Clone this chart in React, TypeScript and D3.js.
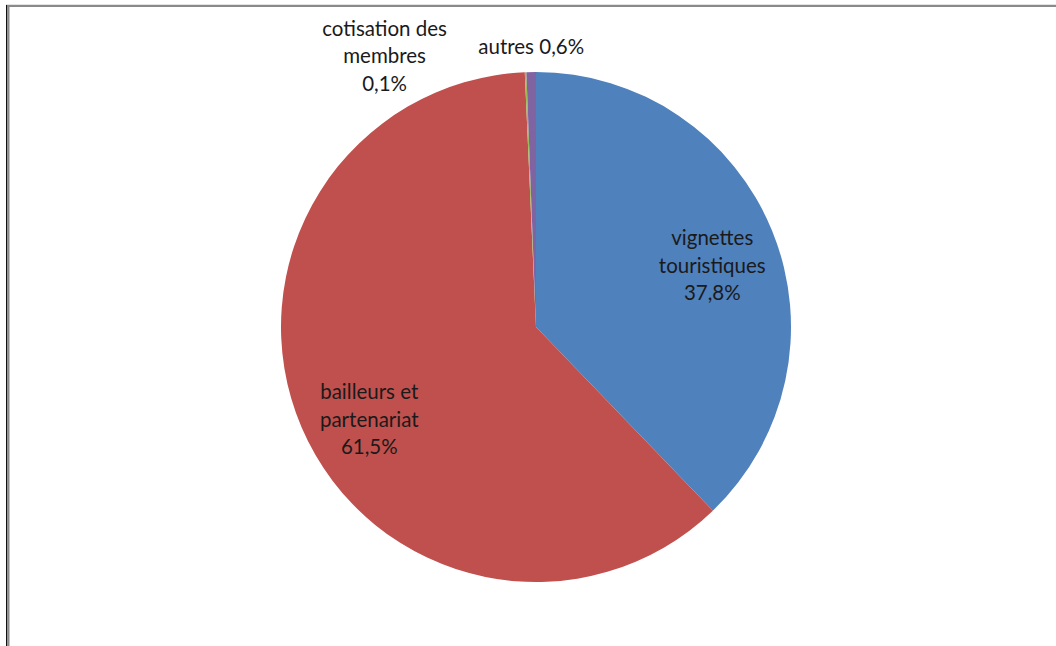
import React from "react";
import * as d3 from "d3";

const categories = ["vignettes touristiques", "bailleurs et partenariat", "cotisation des membres", "autres"];
const values = [37.8, 61.5, 0.1, 0.6];
const labelLines = [
  ["vignettes", "touristiques", "37,8%"],
  ["bailleurs et", "partenariat", "61,5%"],
  ["cotisation des", "membres", "0,1%"],
  ["autres 0,6%"],
];
const colors = ["#4F81BD", "#C0504D", "#9BBB59", "#8064A2"];

const W = 1056;
const H = 646;
const cx = 536;
const cy = 327;
const R = 255;
// label anchor: radius factor and pixel offsets (layout only)
const labelPos = [
  { r: 0.72, dx: 6, dy: 9 },
  { r: 0.72, dx: 2, dy: 22 },
  { r: 1.0, dx: -141, dy: -14 },
  { r: 1.0, dx: 0, dy: -23 },
];

export default function App() {
  const pie = d3.pie<number>().sort(null).value((d) => d);
  const arcs = pie(values);
  const arcGen = d3.arc<d3.PieArcDatum<number>>().innerRadius(0).outerRadius(R);
  const fontSize = 20.5;
  const lh = 27.5;
  return (
    <svg width={W} height={H} style={{ position: "absolute", left: 0, top: 0 }}>
      <rect width={W} height={H} fill="#fff" />
      <line x1={6} x2={W} y1={4.8} y2={4.8} stroke="#d8d8d8" strokeWidth={1} />
      <line x1={6} x2={W} y1={6} y2={6} stroke="#8a8a8a" strokeWidth={2} />
      <line x1={6.5} x2={6.5} y1={5} y2={H} stroke="#111" strokeWidth={1} />
      <line x1={8.3} x2={8.3} y1={6} y2={H} stroke="#8a8a8a" strokeWidth={2.4} />
      <g transform={`translate(${cx},${cy})`}>
        {arcs.map((a, i) => (
          <path key={categories[i]} d={arcGen(a) || ""} fill={colors[i]} />
        ))}
        {arcs.map((a, i) => {
          const mid = (a.startAngle + a.endAngle) / 2;
          const rr = R * labelPos[i].r;
          const x = Math.sin(mid) * rr + labelPos[i].dx;
          const y = -Math.cos(mid) * rr + labelPos[i].dy;
          const lines = labelLines[i];
          const y0 = y - ((lines.length - 1) * lh) / 2;
          return (
            <text
              key={"l" + i}
              textAnchor="middle"
              fontFamily="Lato, 'Open Sans', sans-serif"
              fontSize={fontSize}
              fill="#1a1a1a"
            >
              {lines.map((ln, j) => (
                <tspan key={j} x={x} y={y0 + j * lh} dominantBaseline="middle">
                  {ln}
                </tspan>
              ))}
            </text>
          );
        })}
      </g>
    </svg>
  );
}
